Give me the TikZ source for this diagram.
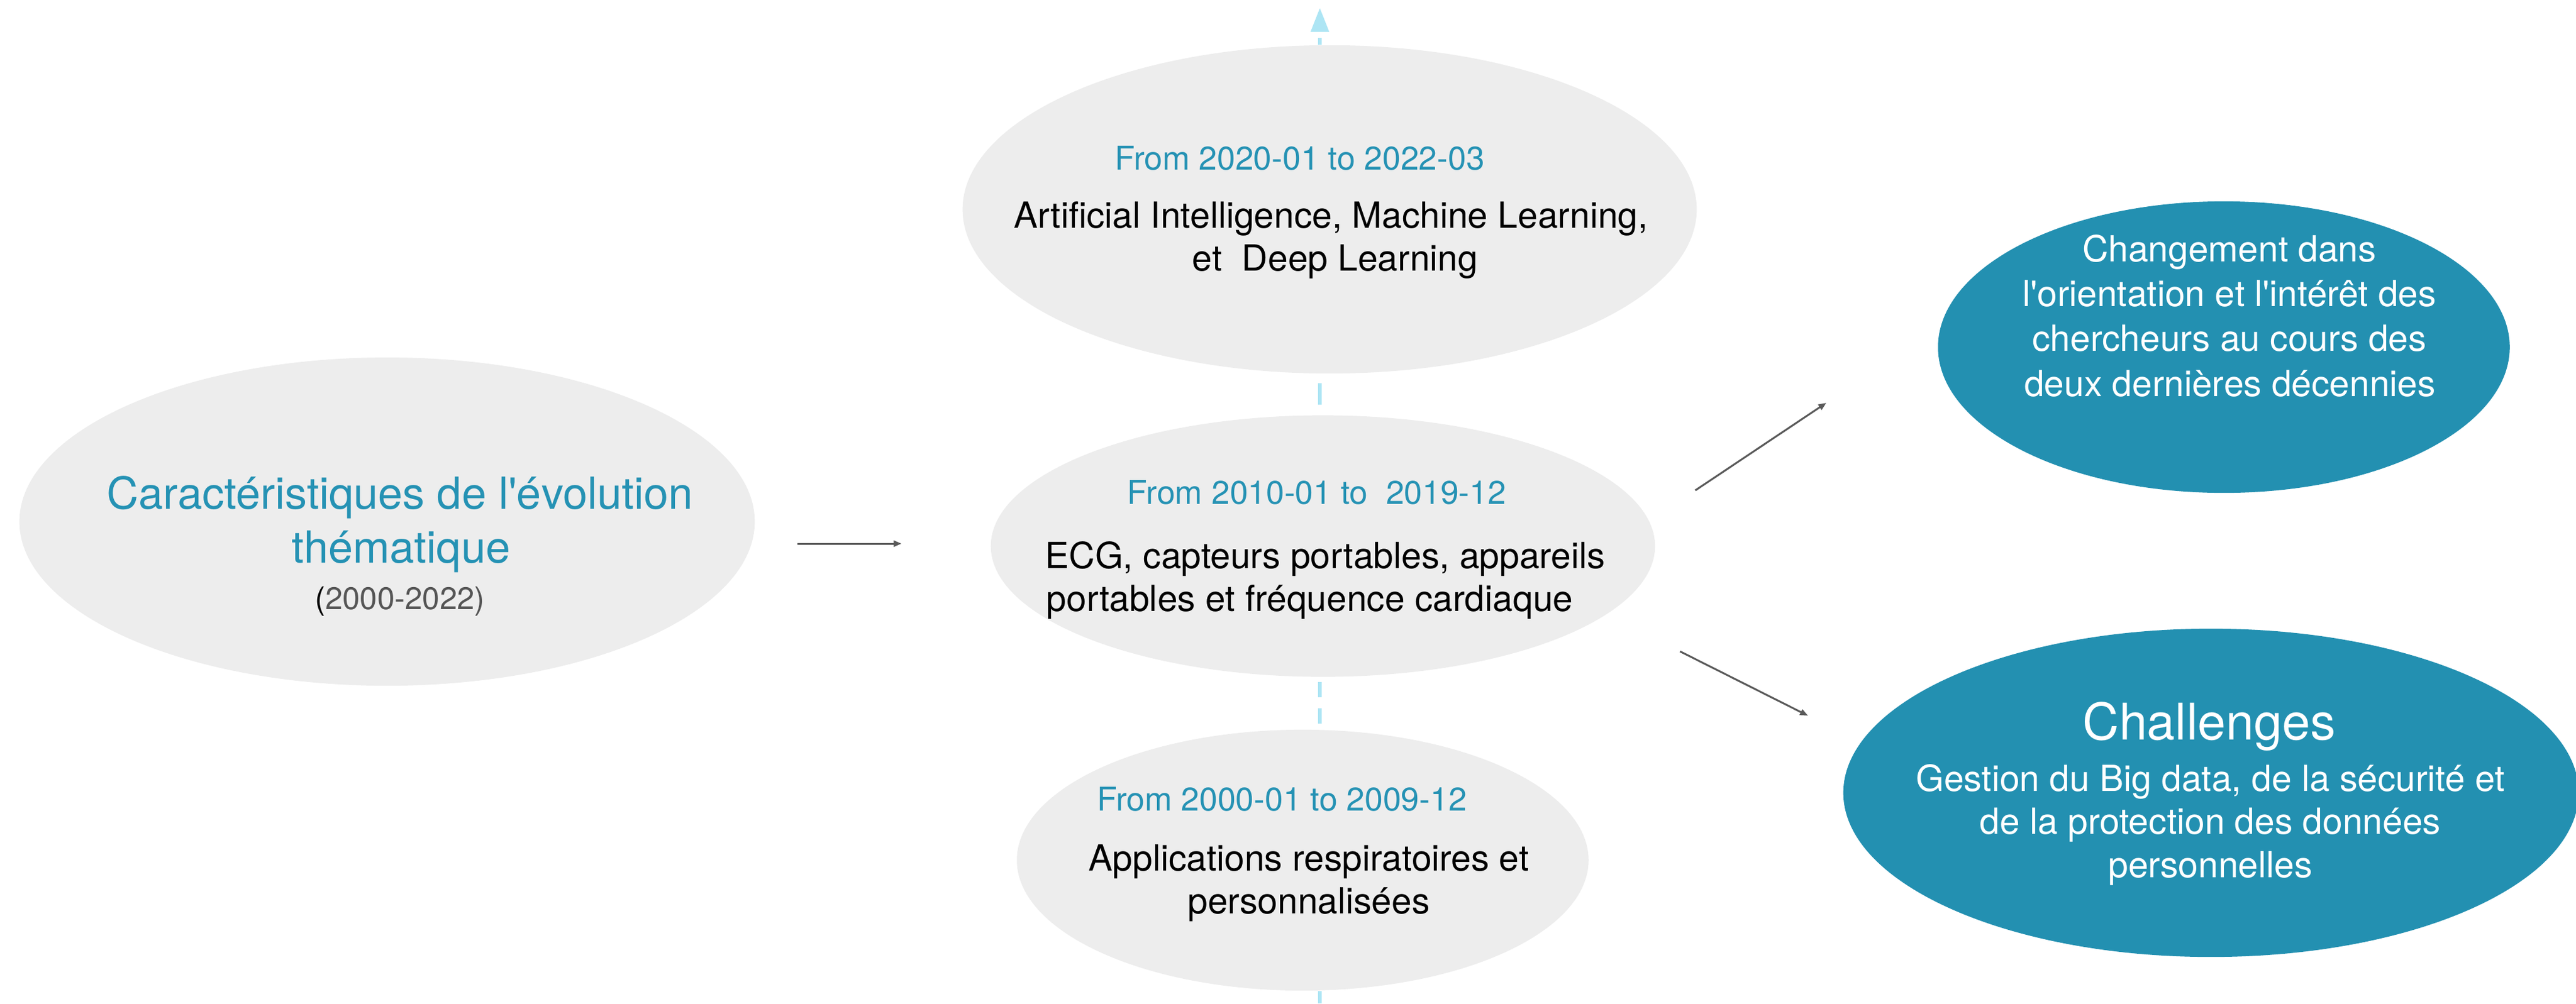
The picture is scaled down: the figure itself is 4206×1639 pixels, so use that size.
\documentclass[tikz,border=0pt]{standalone}
\usepackage{fontspec}
\setmainfont{TeX Gyre Heros}
\usetikzlibrary{shapes.geometric,arrows.meta}
\definecolor{bgray}{HTML}{EDEDED}
\definecolor{tealfill}{HTML}{2390B1}
\definecolor{tealtxt}{HTML}{2592B4}
\definecolor{dashc}{HTML}{ADE5F4}
\definecolor{arrc}{HTML}{5A5A5A}
\definecolor{subgray}{HTML}{555555}
\newcommand{\ap}{\textquotesingle}
\begin{document}
\begin{tikzpicture}[x=0.01cm,y=-0.01cm,
  blob/.style={ellipse, inner sep=0pt, draw=none},
  greyblob/.style={blob, fill=bgray},
  tealblob/.style={blob, fill=tealfill},
  txt/.style={inner sep=0pt, anchor=base, font=\fontsize{16.7pt}{20pt}\selectfont},
  period/.style={txt, text=tealtxt, font=\fontsize{15.2pt}{18pt}\selectfont},
  body/.style={txt, text=black},
  wbody/.style={txt, text=white},
  title/.style={txt, text=tealtxt, font=\fontsize{20.5pt}{24pt}\selectfont},
  sub/.style={txt, text=subgray, font=\fontsize{14.5pt}{17pt}\selectfont},
  bigw/.style={txt, text=white, font=\fontsize{23.5pt}{28pt}\selectfont},
  conn/.style={draw=arrc, line width=0.03cm, -{Triangle[length=0.13cm,width=0.10cm]}},
  timeline/.style={draw=dashc, line width=0.055cm}
]
\useasboundingbox (0,0) rectangle (4206,1639);

% ellipses
\node[greyblob, minimum width=12cm, minimum height=5.36cm] (left) at (632,852) {};
\node[greyblob, minimum width=11.98cm, minimum height=5.36cm] (top) at (2171,342) {};
\node[greyblob, minimum width=10.84cm, minimum height=4.27cm] (mid) at (2160,892) {};
\node[greyblob, minimum width=9.33cm, minimum height=4.26cm] (bot) at (2127,1405) {};
\node[tealblob, minimum width=9.33cm, minimum height=4.76cm] (rtop) at (3631,567) {};
\node[tealblob, minimum width=12cm, minimum height=5.36cm] (rbot) at (3610,1295) {};

% timeline
\coordinate (vb) at (2155,1639);
\coordinate (vt) at (2155,13);
\draw[timeline] (vb) -- (bot.south -| vb);
\draw[timeline, dash pattern=on 0.25cm off 0.18cm, dash phase=0.35cm] (mid.south -| vb) -- (bot.north -| vb);
\draw[timeline, dash pattern=on 0.35cm off 10cm, dash phase=10.2cm] (top.south -| vb) -- (mid.north -| vb);
\draw[timeline, dash pattern=on 0.11cm off 0.11cm, -{Triangle[length=0.39cm,width=0.29cm]}] (top.north -| vb) -- (vt);

% left text
\node[title] (l1) at (653,831) {Caractéristiques de l\ap évolution};
\node[title] (l2) at (655,919) {thématique};
\node[sub] (l3) at (653,995) {\textcolor{black}{(}2000-2022)};

% top text
\node[period] (t0) at (2122,277) {From 2020-01 to 2022-03};
\node[body] (t1) at (2173,372) {Artificial Intelligence, Machine Learning,};
\node[body] (t2) at (2180,442) {et\ \ Deep Learning};

% middle text
\node[period] (m0) at (2150,823) {From 2010-01 to\ \ 2019-12};
\node[body, anchor=base west] (m1) at (1706,928) {ECG, capteurs portables, appareils};
\node[body, anchor=base west] (m2) at (1708,998) {portables et fréquence cardiaque};

% bottom text
\node[period] (b0) at (2093,1324) {From 2000-01 to 2009-12};
\node[body] (b1) at (2137,1422) {Applications respiratoires et};
\node[body] (b2) at (2137,1492) {personnalisées};

% right top text
\node[wbody] (r1) at (3640,427) {Changement dans};
\node[wbody] (r2) at (3640,500) {l\ap orientation et l\ap intérêt des};
\node[wbody] (r3) at (3640,573) {chercheurs au cours des};
\node[wbody] (r4) at (3641,647) {deux dernières décennies};

% right bottom text
\node[bigw] (c0) at (3607,1208) {Challenges};
\node[wbody] (c1) at (3609,1292) {Gestion du Big data, de la sécurité et};
\node[wbody] (c2) at (3609,1362) {de la protection des données};
\node[wbody] (c3) at (3609,1433) {personnelles};

% connectors
\coordinate (h1) at (1302,888);
\coordinate (h2) at (1472,888);
\coordinate (u1) at (2768,801);
\coordinate (u2) at (2982,658);
\coordinate (d1) at (2743,1064);
\coordinate (d2) at (2952,1169);
\draw[conn] (h1) -- (h2);
\draw[conn] (u1) -- (u2);
\draw[conn] (d1) -- (d2);
\end{tikzpicture}
\end{document}
